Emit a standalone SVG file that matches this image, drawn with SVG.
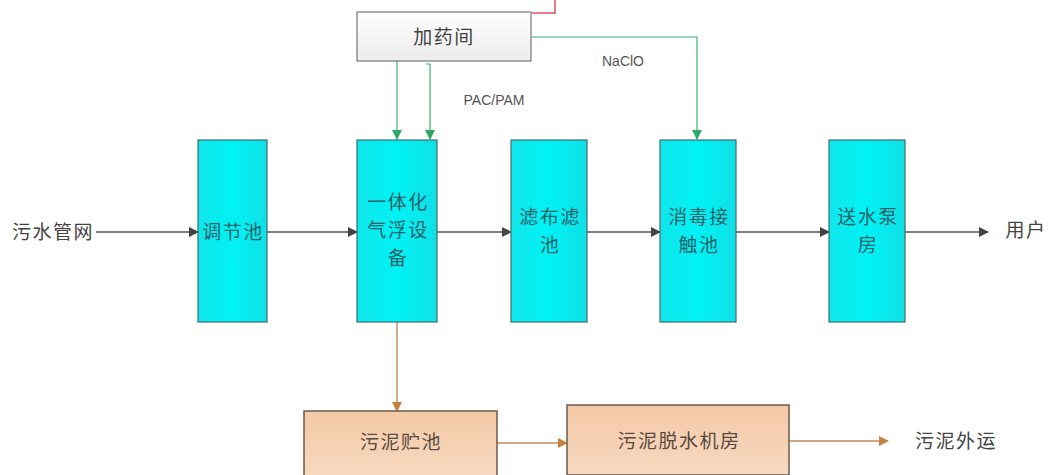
<svg xmlns="http://www.w3.org/2000/svg" width="1048" height="475" viewBox="0 0 1048 475">
<style>
text{font-family:"Liberation Sans","Noto Sans CJK SC",sans-serif;fill:#444;text-anchor:middle;dominant-baseline:central}
.cn{font-size:19px;letter-spacing:1.5px}
.lbl{font-size:14px;fill:#555}
.tt{fill:#23636a}
.mt{fill:#5a4a40}
.tank{fill:url(#cyanG);stroke:#3c6e6e;stroke-width:1.2}
.mud{fill:url(#mudG);stroke:#6b5a4e;stroke-width:1.5}
.dark{stroke:#555;stroke-width:1.6;fill:none;marker-end:url(#aD)}
.green{stroke:#3cb371;stroke-width:1.2;fill:none;marker-end:url(#aG)}
.brown{stroke:#c08a5a;stroke-width:1.4;fill:none;marker-end:url(#aB)}
</style>
<defs>
<linearGradient id="cyanG" x1="0" y1="0" x2="1" y2="0"><stop offset="0" stop-color="#10e6ec"/><stop offset="0.5" stop-color="#00f2f5"/><stop offset="1" stop-color="#10e0e6"/></linearGradient>
<linearGradient id="mudG" x1="0" y1="0" x2="0" y2="1"><stop offset="0" stop-color="#f3c9a6"/><stop offset="1" stop-color="#f8d9c0"/></linearGradient>
<linearGradient id="grayG" x1="0" y1="0" x2="0" y2="1"><stop offset="0" stop-color="#ffffff"/><stop offset="1" stop-color="#ececec"/></linearGradient>
<marker id="aD" markerWidth="10" markerHeight="10" refX="9" refY="5" orient="auto" markerUnits="userSpaceOnUse"><path d="M0,0 L10,5 L0,10 Z" fill="#444"/></marker>
<marker id="aG" markerWidth="10" markerHeight="10" refX="5" refY="9" orient="0" markerUnits="userSpaceOnUse"><path d="M0,0 L10,0 L5,10 Z" fill="#2ea866"/></marker>
<marker id="aB" markerWidth="10" markerHeight="10" refX="9" refY="5" orient="auto" markerUnits="userSpaceOnUse"><path d="M0,0 L10,5 L0,10 Z" fill="#c8803f"/></marker>
</defs>

<path d="M532,13 L555,13 L555,0" fill="none" stroke="#e0505a" stroke-width="1.5"/>

<g id="connectors">
<line class="dark" x1="96" y1="232" x2="198" y2="232"/>
<line class="dark" x1="267" y1="232" x2="357" y2="232"/>
<line class="dark" x1="437" y1="232" x2="511" y2="232"/>
<line class="dark" x1="587" y1="232" x2="660" y2="232"/>
<line class="dark" x1="736" y1="232" x2="829" y2="232"/>
<line class="dark" x1="905" y1="232" x2="988" y2="232"/>
<line class="green" x1="397" y1="61" x2="397" y2="139"/>
<path class="green" d="M426,64 L430,64 L430,139"/>
<path class="green" d="M531,37 L697,37 L697,139"/>
<line class="brown" x1="397" y1="322" x2="397" y2="411"/>
<line class="brown" x1="497" y1="443" x2="567" y2="443"/>
<line class="brown" x1="789" y1="441" x2="888" y2="441"/>
</g>

<g id="dosing">
<rect x="357" y="12" width="174" height="49" fill="url(#grayG)" stroke="#777" stroke-width="1.2"/>
<text class="cn" x="444" y="37">加药间</text>
</g>
<text class="lbl" x="494" y="100">PAC/PAM</text>
<text class="lbl" x="623" y="61">NaClO</text>

<g id="source"><text class="cn" x="53" y="232">污水管网</text></g>

<g id="equalization">
<rect class="tank" x="198" y="140" width="69" height="182"/>
<text class="cn tt" x="233" y="232">调节池</text>
</g>
<g id="daf">
<rect class="tank" x="357" y="140" width="80" height="182"/>
<text class="cn tt" x="398" y="202">一体化</text>
<text class="cn tt" x="398" y="230">气浮设</text>
<text class="cn tt" x="398" y="258">备</text>
</g>
<g id="clothfilter">
<rect class="tank" x="511" y="140" width="76" height="182"/>
<text class="cn tt" x="550" y="217">滤布滤</text>
<text class="cn tt" x="550" y="245">池</text>
</g>
<g id="disinfection">
<rect class="tank" x="660" y="140" width="76" height="182"/>
<text class="cn tt" x="699" y="217">消毒接</text>
<text class="cn tt" x="699" y="245">触池</text>
</g>
<g id="pumphouse">
<rect class="tank" x="829" y="140" width="76" height="182"/>
<text class="cn tt" x="868" y="217">送水泵</text>
<text class="cn tt" x="868" y="245">房</text>
</g>
<g id="user"><text class="cn" x="1026" y="230">用户</text></g>

<g id="sludgetank">
<rect class="mud" x="304" y="411" width="193" height="66"/>
<text class="cn mt" x="401" y="442">污泥贮池</text>
</g>
<g id="dewatering">
<rect class="mud" x="567" y="405" width="222" height="70"/>
<text class="cn mt" x="679" y="441">污泥脱水机房</text>
</g>
<g id="sludgeout"><text class="cn" x="956" y="441">污泥外运</text></g>
</svg>
